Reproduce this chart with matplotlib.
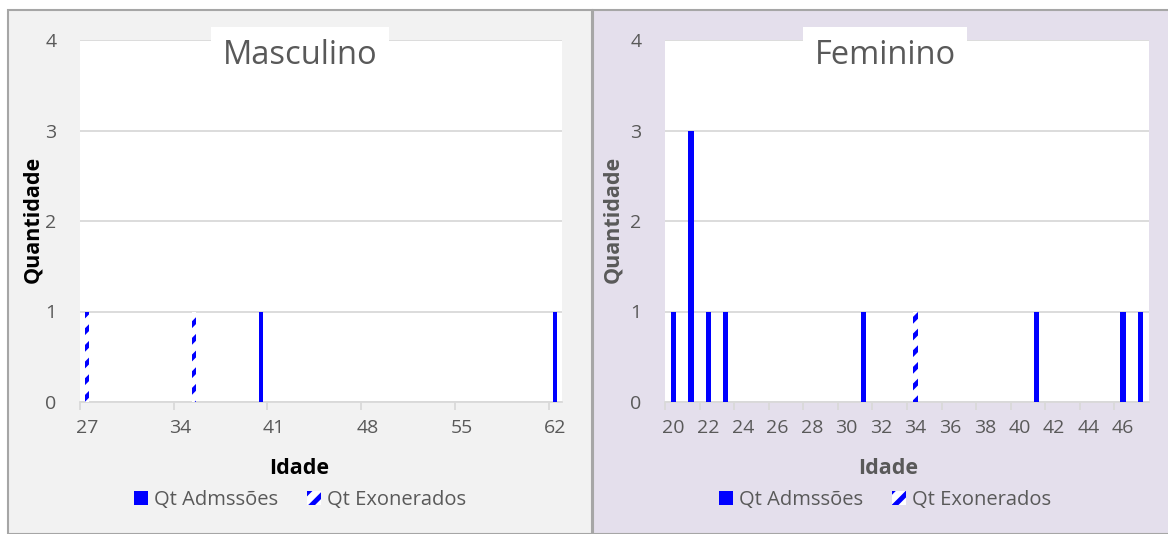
import numpy as np
import matplotlib
matplotlib.use("Agg")
from matplotlib import pyplot as plt
from matplotlib.patches import Rectangle, Patch

plt.rcParams['font.family'] = ['Open Sans', 'DejaVu Sans']
plt.rcParams['hatch.linewidth'] = 3.5

# dados
masc_adm_idade = [40, 62]
masc_adm_qt = [1, 1]
masc_exo_idade = [27, 35]
masc_exo_qt = [1, 1]

fem_adm_idade = [20, 21, 22, 23, 31, 41, 46, 47]
fem_adm_qt = [1, 3, 1, 1, 1, 1, 1, 1]
fem_exo_idade = [34]
fem_exo_qt = [1]

serie_adm = "Qt Admssões"
serie_exo = "Qt Exonerados"

W, H = 1168, 534
cinza = "#595959"
grade = "#d9d9d9"
azul = "#0000ff"

fig = plt.figure(figsize=(W / 100, H / 100), dpi=100)

# fundos dos dois graficos
fig.add_artist(Rectangle((8 / W, 0), 584 / W, 524 / H, transform=fig.transFigure,
                         facecolor="#f2f2f2", edgecolor="#a6a6a6", lw=1.5, zorder=-10))
fig.add_artist(Rectangle((593 / W, 0), 580 / W, 524 / H, transform=fig.transFigure,
                         facecolor="#e4dfec", edgecolor="#a6a6a6", lw=1.5, zorder=-10))

paineis = [
    dict(rect=[80 / W, 132 / H, 482 / W, 362 / H], titulo="Masculino",
         adm=(masc_adm_idade, masc_adm_qt), exo=(masc_exo_idade, masc_exo_qt),
         xmin=27, xmax=62, passo=7, cx=300, lab_cor="black", xl=0.454, yl=-0.077),
    dict(rect=[665 / W, 132 / H, 484 / W, 362 / H], titulo="Feminino",
         adm=(fem_adm_idade, fem_adm_qt), exo=(fem_exo_idade, fem_exo_qt),
         xmin=20, xmax=47, passo=2, cx=885, lab_cor=cinza, xl=0.461, yl=-0.087),
]

for p in paineis:
    ax = fig.add_axes(p["rect"])
    ax.set_facecolor("white")
    ax.bar(p["adm"][0], p["adm"][1], width=0.3, color=azul, zorder=3)
    ax.bar(p["exo"][0], p["exo"][1], width=0.3, facecolor="white", edgecolor=azul,
           hatch="//", lw=0, zorder=3)

    ax.set_xlim(p["xmin"] - 0.5, p["xmax"] + 0.5)
    ax.set_ylim(0, 4)
    ax.set_yticks(range(5))
    ax.yaxis.grid(True, color=grade, lw=1.3)
    ax.set_axisbelow(True)
    for s in ["top", "right", "left"]:
        ax.spines[s].set_visible(False)
    ax.spines["bottom"].set_color(grade)
    ax.spines["bottom"].set_linewidth(1.3)

    rotulos = np.arange(p["xmin"], p["xmax"] + 1, p["passo"])
    ax.set_xticks(rotulos)
    ax.set_xticks(rotulos - 0.5, minor=True)
    ax.tick_params(axis="x", which="major", length=0, pad=12, labelsize=14, labelcolor=cinza)
    ax.tick_params(axis="x", which="minor", length=6, width=1.3, color=grade)
    ax.tick_params(axis="y", length=0, pad=17, labelsize=14, labelcolor=cinza)

    ax.set_xlabel("Idade", fontsize=15.5, fontweight="bold", color=p["lab_cor"])
    ax.xaxis.set_label_coords(p["xl"], -0.155)
    ax.set_ylabel("Quantidade", fontsize=15.5, fontweight="bold", color=p["lab_cor"])
    ax.yaxis.set_label_coords(p["yl"], 0.503)

    fig.text(p["cx"] / W, 1 - 55 / H, p["titulo"], ha="center", va="center",
             fontsize=23.5, color=cinza,
             bbox=dict(boxstyle="square,pad=0.35", facecolor="white", edgecolor="none"))

    handles = [Patch(facecolor=azul, edgecolor=azul, lw=0),
               Patch(facecolor="white", edgecolor=azul, hatch="//", lw=0)]
    fig.legend(handles, [serie_adm, serie_exo], loc="center",
               bbox_to_anchor=(p["cx"] / W, 1 - 500 / H), ncol=2, frameon=False,
               fontsize=14.5, labelcolor=cinza, handlelength=0.72, handleheight=0.72,
               handletextpad=0.3, columnspacing=1.4)

plt.savefig("out.png", dpi=100)
